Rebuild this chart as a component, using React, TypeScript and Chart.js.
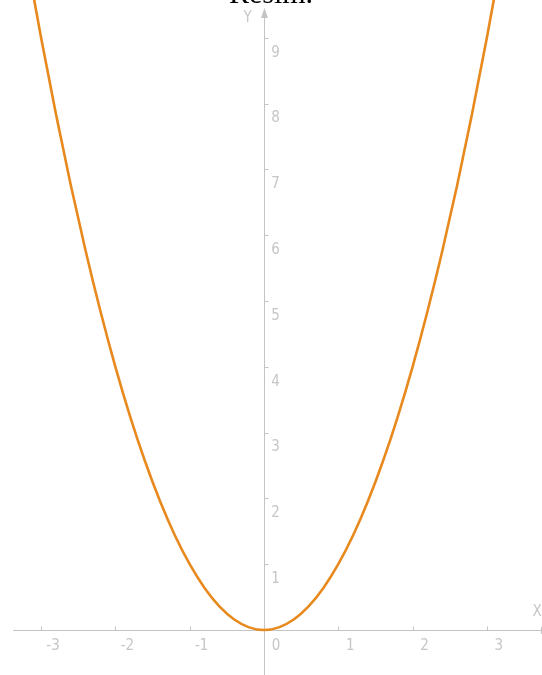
import React, { useEffect, useRef } from "react";
import { Chart, registerables } from "chart.js";

Chart.register(...registerables);

// ---- data ----
const titleText = "Resim.";
const xValues = [
  -3.2, -3.0, -2.8, -2.6, -2.4, -2.2, -2.0, -1.8, -1.6, -1.4, -1.2, -1.0, -0.8, -0.6, -0.4, -0.2,
  0, 0.2, 0.4, 0.6, 0.8, 1.0, 1.2, 1.4, 1.6, 1.8, 2.0, 2.2, 2.4, 2.6, 2.8, 3.0, 3.2,
];
const yValues = [
  10.24, 9.0, 7.84, 6.76, 5.76, 4.84, 4.0, 3.24, 2.56, 1.96, 1.44, 1.0, 0.64, 0.36, 0.16, 0.04,
  0, 0.04, 0.16, 0.36, 0.64, 1.0, 1.44, 1.96, 2.56, 3.24, 4.0, 4.84, 5.76, 6.76, 7.84, 9.0, 10.24,
];
const xTickValues = [-3, -2, -1, 0, 1, 2, 3];
const xTickLabels = ["-3", "-2", "-1", "0", "1", "2", "3"];
const yTickValues = [1, 2, 3, 4, 5, 6, 7, 8, 9];
const yTickLabels = ["1", "2", "3", "4", "5", "6", "7", "8", "9"];
const axisNames = { x: "X", y: "Y" };
const xRange = { min: -3.553, max: 3.742 };
const yRange = { min: -0.684, max: 9.574 };

const W = 542;
const H = 675;
const AXIS_COLOR = "#c4c4c4";
const LABEL_COLOR = "#c6c6c6";
const LINE_COLOR = "#e8891e";
const LABEL_FONT = '15px "Liberation Sans Narrow", "DejaVu Sans Condensed", "Liberation Sans", sans-serif';

const axesPlugin = {
  id: "customAxes",
  beforeDatasetsDraw(chart: any) {
    const { ctx, chartArea, scales } = chart;
    const xs = scales.x;
    const ys = scales.y;
    const x0 = Math.round(xs.getPixelForValue(0)) + 0.5;
    const y0 = Math.round(ys.getPixelForValue(0)) + 0.5;
    ctx.save();
    ctx.strokeStyle = AXIS_COLOR;
    ctx.fillStyle = AXIS_COLOR;
    ctx.lineWidth = 1;

    // x axis line
    ctx.beginPath();
    ctx.moveTo(chartArea.left + 13, y0);
    ctx.lineTo(chartArea.right - 1, y0);
    ctx.stroke();
    // x arrow (mostly off the right edge)
    ctx.beginPath();
    ctx.moveTo(chartArea.right - 1, y0 - 3.5);
    ctx.lineTo(chartArea.right + 9, y0);
    ctx.lineTo(chartArea.right - 1, y0 + 3.5);
    ctx.closePath();
    ctx.fill();

    // y axis line
    ctx.beginPath();
    ctx.moveTo(x0, chartArea.top + 17);
    ctx.lineTo(x0, chartArea.bottom);
    ctx.stroke();
    // y arrow
    ctx.beginPath();
    ctx.moveTo(x0, chartArea.top + 8);
    ctx.lineTo(x0 + 3.5, chartArea.top + 18);
    ctx.lineTo(x0 - 3.5, chartArea.top + 18);
    ctx.closePath();
    ctx.fill();

    // x ticks
    xTickValues.forEach((v) => {
      const px = Math.round(xs.getPixelForValue(v)) + 0.5;
      ctx.beginPath();
      ctx.moveTo(px, y0);
      ctx.lineTo(px, y0 - 4);
      ctx.stroke();
    });
    // y ticks
    yTickValues.forEach((v) => {
      const py = Math.round(ys.getPixelForValue(v)) + 0.5;
      ctx.beginPath();
      ctx.moveTo(x0, py);
      ctx.lineTo(x0 + 4, py);
      ctx.stroke();
    });

    // labels
    ctx.fillStyle = LABEL_COLOR;
    ctx.font = LABEL_FONT;
    ctx.textAlign = "center";
    ctx.textBaseline = "middle";
    xTickValues.forEach((v, i) => {
      const px = xs.getPixelForValue(v);
      ctx.fillText(xTickLabels[i], px + 12, y0 + 16);
    });
    yTickValues.forEach((v, i) => {
      const py = ys.getPixelForValue(v);
      ctx.fillText(yTickLabels[i], x0 + 11, py + 15);
    });
    ctx.fillText(axisNames.y, x0 - 17, chartArea.top + 18);
    ctx.fillText(axisNames.x, chartArea.right - 5, y0 - 18);
    ctx.restore();
  },
};

export default function App() {
  const canvasRef = useRef<HTMLCanvasElement | null>(null);

  useEffect(() => {
    if (!canvasRef.current) return;
    const chart = new Chart(canvasRef.current, {
      type: "line",
      data: {
        datasets: [
          {
            data: xValues.map((x, i) => ({ x, y: yValues[i] })),
            borderColor: LINE_COLOR,
            borderWidth: 2.6,
            pointRadius: 0,
            fill: false,
            cubicInterpolationMode: "monotone",
          },
        ],
      },
      options: {
        animation: false,
        responsive: false,
        devicePixelRatio: 1,
        layout: { padding: 0 },
        scales: {
          x: { type: "linear", min: xRange.min, max: xRange.max, display: false },
          y: { type: "linear", min: yRange.min, max: yRange.max, display: false },
        },
        plugins: {
          legend: { display: false },
          tooltip: { enabled: false },
          title: { display: false },
        },
      },
      plugins: [axesPlugin],
    } as any);
    return () => chart.destroy();
  }, []);

  return (
    <div style={{ position: "absolute", left: 0, top: 0, width: W, height: H, overflow: "hidden", background: "#ffffff" }}>
      <canvas ref={canvasRef} width={W} height={H} style={{ display: "block", width: W, height: H }} />
      <div
        style={{
          position: "absolute",
          left: 0,
          top: -22,
          width: W,
          textAlign: "center",
          fontFamily: '"Liberation Serif", "Times New Roman", serif',
          fontSize: 30,
          lineHeight: "30px",
          color: "#000000",
        }}
      >
        {titleText}
      </div>
    </div>
  );
}
